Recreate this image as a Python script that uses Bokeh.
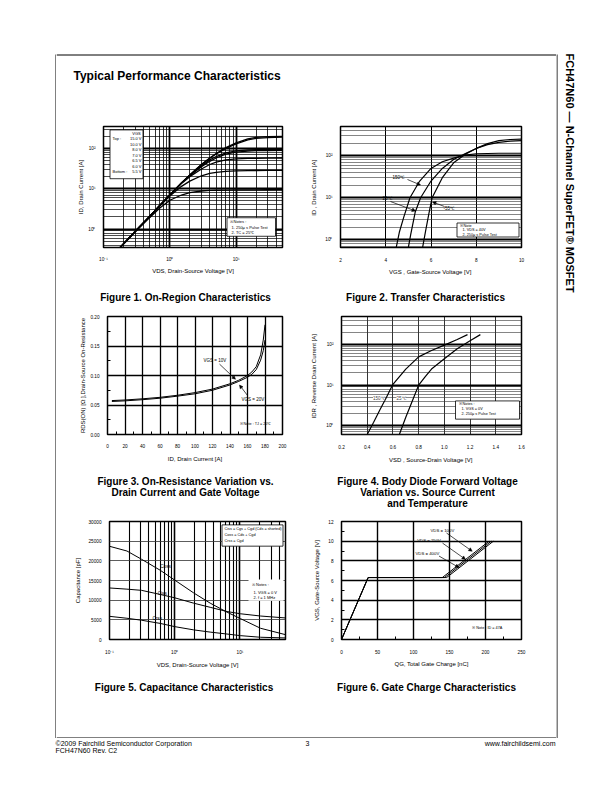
import math
from bokeh.plotting import figure
from bokeh.layouts import column, row
from bokeh.models import Range1d, FixedTicker, NumeralTickFormatter, Arrow, NormalHead, Label
from bokeh.core.properties import value
from bokeh.embed import file_html
from bokeh.resources import INLINE

FONT = "Liberation Sans"

# ---------------- data ----------------
# Figure 1: On-Region Characteristics
fig1_vds = [0.15, 0.2, 0.3, 0.5, 0.7, 1, 1.5, 2, 3, 4, 5, 7, 10, 15, 20, 30, 50]
fig1_vgs = ["15.0 V", "10.0 V", "8.0 V", "7.0 V", "6.5 V", "6.0 V", "5.5 V"]
fig1_id_15v = [0.26, 0.43, 0.88, 2.1, 3.8, 7.0, 14, 22, 40, 58, 75, 105, 138, 172, 188, 196, 200]
fig1_id_10v = [0.26, 0.43, 0.88, 2.1, 3.8, 7.0, 14, 22, 40, 57, 73, 100, 130, 163, 178, 186, 190]
fig1_id_8v = [0.26, 0.43, 0.88, 2.1, 3.8, 7.0, 14, 21.5, 37, 52, 63, 78, 87, 92, 94, 95, 95]
fig1_id_7v = [0.26, 0.43, 0.88, 2.1, 3.8, 7.0, 14, 21, 35, 48, 58, 72, 81, 86, 88, 89, 90]
fig1_id_65v = [0.26, 0.43, 0.88, 2.1, 3.8, 6.9, 13.5, 20, 31, 40, 46, 52, 55, 56.5, 57, 57.5, 58]
fig1_id_6v = [0.26, 0.43, 0.87, 2.05, 3.7, 6.6, 11.5, 15.5, 21, 24, 25.5, 27, 27.8, 28.2, 28.4, 28.5, 28.6]
fig1_id_55v = [0.26, 0.42, 0.85, 1.95, 3.3, 5.2, 7.0, 8.0, 8.8, 9.1, 9.2, 9.3, 9.35, 9.4, 9.4, 9.45, 9.5]
fig1_x_ticks = [0.1, 1, 10]
fig1_x_labels = ["10⁻¹", "10⁰", "10¹"]
fig1_y_ticks = [1, 10, 100]
fig1_y_labels = ["10⁰", "10¹", "10²"]

# Figure 2: Transfer Characteristics
fig2_vgs_150 = [4.42, 4.6, 4.8, 5.07, 5.5, 6.0, 6.5, 7.0, 7.5, 8.0, 9.0, 10.0]
fig2_id_150 = [0.5, 1.5, 3.5, 10, 25, 50, 72, 88, 104, 112, 115, 115]
fig2_vgs_25 = [4.96, 5.1, 5.3, 5.54, 6.0, 6.5, 7.0, 7.5, 8.0, 8.5, 9.0, 9.5, 10.0]
fig2_id_25 = [0.5, 1.3, 4.5, 10, 25, 50, 82, 112, 150, 185, 210, 225, 230]
fig2_vgs_m55 = [5.59, 5.75, 5.9, 6.05, 6.5, 7.0, 7.5, 8.0, 8.5, 9.0, 9.5, 10.0]
fig2_id_m55 = [0.5, 1.5, 4, 10, 30, 68, 108, 150, 195, 230, 245, 250]
fig2_x_ticks = [2, 4, 6, 8, 10]
fig2_y_ticks = [1, 10, 100]
fig2_y_labels = ["10⁰", "10¹", "10²"]

# Figure 3: On-Resistance vs Drain Current
fig3_id = [5, 20, 40, 60, 80, 100, 120, 140, 150, 160, 165, 170, 175, 178, 180]
fig3_rds_10v = [0.0575, 0.0585, 0.0605, 0.063, 0.0665, 0.071, 0.077, 0.086, 0.092, 0.1, 0.106, 0.115, 0.135, 0.16, 0.186]
fig3_rds_20v = [0.056, 0.057, 0.059, 0.0615, 0.065, 0.069, 0.075, 0.084, 0.09, 0.097, 0.102, 0.11, 0.126, 0.142, 0.16]
fig3_x_ticks = [0, 20, 40, 60, 80, 100, 120, 140, 160, 180, 200]
fig3_y_ticks = [0.0, 0.05, 0.10, 0.15, 0.20]

# Figure 4: Body Diode Forward Voltage
fig4_vsd_150 = [0.40, 0.45, 0.5, 0.55, 0.6, 0.7, 0.8, 0.9, 1.0, 1.1, 1.18]
fig4_idr_150 = [0.6, 1.2, 2.5, 5, 10.5, 25, 50, 72, 98, 135, 178]
fig4_vsd_25 = [0.65, 0.7, 0.75, 0.8, 0.85, 0.9, 1.0, 1.1, 1.2, 1.28]
fig4_idr_25 = [0.6, 1.6, 4, 10, 16, 25, 45, 80, 125, 178]
fig4_x_ticks = [0.2, 0.4, 0.6, 0.8, 1.0, 1.2, 1.4, 1.6]
fig4_y_ticks = [1, 10, 100]
fig4_y_labels = ["10⁰", "10¹", "10²"]

# Figure 5: Capacitance Characteristics
fig5_vds = [0.1, 0.185, 0.31, 0.6, 1.0, 1.95, 3.5, 6.35, 10.2, 20.7, 50]
fig5_coss = [23700, 22500, 20400, 17600, 15100, 11850, 9240, 6950, 5300, 2860, 1230]
fig5_ciss = [13100, 12800, 12500, 11450, 10600, 9240, 8180, 7110, 6540, 5970, 5480]
fig5_crss = [5890, 5400, 4900, 4090, 3270, 2450, 1880, 1390, 980, 570, 400]
fig5_x_ticks = [0.1, 1, 10]
fig5_x_labels = ["10⁻¹", "10⁰", "10¹"]
fig5_y_ticks = [0, 5000, 10000, 15000, 20000, 25000, 30000]

# Figure 6: Gate Charge Characteristics
fig6_qg_100 = [0, 37, 140, 205]
fig6_qg_250 = [0, 37, 143, 208]
fig6_qg_400 = [0, 37, 146, 211]
fig6_vgs = [0, 6.3, 6.3, 10]
fig6_x_ticks = [0, 50, 100, 150, 200, 250]
fig6_y_ticks = [0, 2, 4, 6, 8, 10, 12]


# ---------------- helpers ----------------
def log_minor(lo, hi):
    out = []
    for e in range(-2, 4):
        for m in range(2, 10):
            v = m * 10 ** e
            if lo < v < hi:
                out.append(v)
    return out


def make_chart(geo, xr, yr, xlog=False, ylog=False, st=(3, 3, 2, 2)):
    ox, oy, w, h, fl, fr, ft, fb = geo
    p = figure(width=w, height=h, x_range=Range1d(*xr), y_range=Range1d(*yr),
               x_axis_type="log" if xlog else "linear",
               y_axis_type="log" if ylog else "linear",
               output_backend="svg", toolbar_location=None,
               min_border_left=fl - ox, min_border_right=ox + w - fr,
               min_border_top=ft - oy, min_border_bottom=oy + h - fb)
    p.outline_line_color = "black"
    p.outline_line_width = 1.5
    p.background_fill_color = "white"
    p.border_fill_color = "white"
    for ax in p.axis:
        ax.axis_line_color = None
        ax.major_tick_line_color = None
        ax.minor_tick_line_color = None
        ax.major_label_text_font = FONT
        ax.major_label_text_font_size = "4.7px"
        ax.major_label_text_color = "black"
        ax.axis_label_text_font = FONT
        ax.axis_label_text_font_size = "6px"
        ax.axis_label_text_font_style = "normal"
        ax.axis_label_text_color = "black"
    p.xaxis.major_label_standoff = st[0]
    p.xaxis.axis_label_standoff = st[1]
    p.yaxis.major_label_standoff = st[2]
    p.yaxis.axis_label_standoff = st[3]

    def fx(px):
        f = (px - fl) / (fr - fl)
        if xlog:
            a, b = math.log10(xr[0]), math.log10(xr[1])
            return 10 ** (a + f * (b - a))
        return xr[0] + f * (xr[1] - xr[0])

    def fy(py):
        f = (fb - py) / (fb - ft)
        if ylog:
            a, b = math.log10(yr[0]), math.log10(yr[1])
            return 10 ** (a + f * (b - a))
        return yr[0] + f * (yr[1] - yr[0])

    return p, fx, fy


def grid(g, color="black", width=1.0, mcolor=None, mwidth=0.7):
    g.grid_line_color = color
    g.grid_line_width = width
    if mcolor:
        g.minor_grid_line_color = mcolor
        g.minor_grid_line_width = mwidth


def ptext(p, fx, fy, px, py, s, size="4px", align="left", style="normal"):
    p.text(x=[fx(px)], y=[fy(py)], text=[s], text_font=value(FONT), text_font_size=size,
           text_align=align, text_baseline="middle", text_color="black", text_font_style=style)


def pbox(p, fx, fy, x0, y0, x1, y1, line=True):
    p.quad(left=[fx(x0)], right=[fx(x1)], top=[fy(y0)], bottom=[fy(y1)],
           fill_color="white", line_color="black" if line else None, line_width=0.8)


def parrow(p, fx, fy, x0, y0, x1, y1):
    p.add_layout(Arrow(end=NormalHead(size=3.5, fill_color="black", line_color="black", line_width=0.5),
                       x_start=fx(x0), y_start=fy(y0), x_end=fx(x1), y_end=fy(y1),
                       line_color="black", line_width=0.7))


def make_deco(ox, oy, w, h):
    p = figure(width=w, height=h, x_range=Range1d(ox, ox + w), y_range=Range1d(-(oy + h), -oy),
               output_backend="svg", toolbar_location=None, min_border=0,
               x_axis_type=None, y_axis_type=None)
    p.outline_line_color = None
    p.background_fill_color = "white"
    p.border_fill_color = "white"
    return p


def dtext(p, px, py, s, size="10px", align="left", style="bold", angle=0.0):
    p.text(x=[px], y=[-py], text=[s], text_font=value(FONT), text_font_size=size,
           text_align=align, text_baseline="middle", text_color="black",
           text_font_style=style, angle=angle)


def dline(p, xs, ys, w=1.0):
    p.line(x=xs, y=[-v for v in ys], line_color="black", line_width=w)


# ---------------- Figure 1 ----------------
f1, fx, fy = make_chart((56, 110, 250, 170, 103, 282, 126, 250), (0.1, 50), (0.35, 350), True, True, (3, 3, 2, 1))
f1.xaxis.ticker = FixedTicker(ticks=fig1_x_ticks, minor_ticks=log_minor(0.1, 50))
f1.yaxis.ticker = FixedTicker(ticks=fig1_y_ticks, minor_ticks=log_minor(0.35, 350))
f1.xaxis.major_label_overrides = dict(zip(fig1_x_ticks, fig1_x_labels))
f1.yaxis.major_label_overrides = dict(zip(fig1_y_ticks, fig1_y_labels))
f1.xaxis.axis_label = "VDS, Drain-Source Voltage [V]"
f1.yaxis.axis_label = "ID, Drain Current [A]"
grid(f1.xgrid, width=1.8, mcolor="black", mwidth=0.8)
grid(f1.ygrid, width=1.8, mcolor="black", mwidth=0.7)
for ys in [fig1_id_15v, fig1_id_10v, fig1_id_8v, fig1_id_7v, fig1_id_65v, fig1_id_6v, fig1_id_55v]:
    f1.line(fig1_vds, ys, line_color="black", line_width=1.3)
pbox(f1, fx, fy, 109.5, 129.5, 142.5, 179.5)
ptext(f1, fx, fy, 136, 133.5, "VGS", "4px", "center")
rows_y = [138.5, 144.2, 150, 155.5, 161, 166.8, 172.6]
for yy, lab in zip(rows_y, fig1_vgs):
    ptext(f1, fx, fy, 141, yy, lab, "4px", "right")
ptext(f1, fx, fy, 112, rows_y[0], "Top :", "4px")
ptext(f1, fx, fy, 112, rows_y[-1], "Bottom :", "4px")
pbox(f1, fx, fy, 226.5, 219.5, 275, 238.5)
ptext(f1, fx, fy, 229, 223, "※ Notes :", "4px")
ptext(f1, fx, fy, 231, 229, "1. 250μ s Pulse Test", "4px")
ptext(f1, fx, fy, 231, 235, "2. TC = 25℃", "4px")

# ---------------- Figure 2 ----------------
f2, fx, fy = make_chart((306, 110, 250, 170, 340, 521, 126, 247), (2, 10), (0.65, 500), False, True, (4, 4, 2, 5))
f2.xaxis.ticker = FixedTicker(ticks=fig2_x_ticks)
f2.yaxis.ticker = FixedTicker(ticks=fig2_y_ticks, minor_ticks=log_minor(0.65, 500))
f2.yaxis.major_label_overrides = dict(zip(fig2_y_ticks, fig2_y_labels))
f2.xaxis.axis_label = "VGS , Gate-Source Voltage  [V]"
f2.yaxis.axis_label = "ID , Drain Current  [A]"
grid(f2.xgrid, width=1.0)
grid(f2.ygrid, width=1.8, mcolor="#333333", mwidth=0.6)
for xs, ys in [(fig2_vgs_150, fig2_id_150), (fig2_vgs_25, fig2_id_25), (fig2_vgs_m55, fig2_id_m55)]:
    f2.line(xs, ys, line_color="black", line_width=1.2)
ptext(f2, fx, fy, 392, 176.7, "150℃", "4.5px")
parrow(f2, fx, fy, 407, 179, 420, 184.5)
ptext(f2, fx, fy, 382, 198.3, "25℃", "4.5px")
parrow(f2, fx, fy, 390, 201, 415, 210.5)
ptext(f2, fx, fy, 443, 208.3, "-55℃", "4.5px")
parrow(f2, fx, fy, 444, 206, 432, 201.5)
pbox(f2, fx, fy, 456.5, 222.5, 518.5, 236.5)
ptext(f2, fx, fy, 459, 225.5, "※ Note", "3.8px")
ptext(f2, fx, fy, 462, 229.8, "1. VDS = 40V", "3.8px")
ptext(f2, fx, fy, 462, 234, "2. 250μ s Pulse Test", "3.8px")

# ---------------- Figure 3 ----------------
f3, fx, fy = make_chart((56, 310, 250, 155, 107, 282, 316, 440), (0, 200), (0, 0.2), False, False, (3, 5, 2, 1))
f3.xaxis.ticker = FixedTicker(ticks=fig3_x_ticks, minor_ticks=[t + 10 for t in fig3_x_ticks[:-1]])
f3.yaxis.ticker = FixedTicker(ticks=fig3_y_ticks, minor_ticks=[t + 0.025 for t in fig3_y_ticks[:-1]])
f3.yaxis.formatter = NumeralTickFormatter(format="0.00")
for ax in f3.axis:
    ax.minor_tick_line_color = "black"
    ax.minor_tick_in = 3
    ax.minor_tick_out = 0
f3.xaxis.axis_label = "ID, Drain Current [A]"
f3.yaxis.axis_label = "RDS(ON) [Ω ],Drain-Source On-Resistance"
grid(f3.xgrid, width=1.3)
grid(f3.ygrid, width=1.3)
f3.line(fig3_id, fig3_rds_10v, line_color="black", line_width=1.0)
f3.line(fig3_id, fig3_rds_20v, line_color="black", line_width=1.0)
ptext(f3, fx, fy, 203, 362, "VGS = 10V", "4.5px")
parrow(f3, fx, fy, 219, 366, 235, 382)
ptext(f3, fx, fy, 241, 403.5, "VGS = 20V", "4.5px")
parrow(f3, fx, fy, 247, 399, 239, 388)
ptext(f3, fx, fy, 239, 429, "※ Note : TJ = 25℃", "3.8px")

# ---------------- Figure 4 ----------------
f4, fx, fy = make_chart((306, 310, 250, 155, 341, 521, 315, 438), (0.2, 1.6), (0.6, 500), False, True, (4, 5, 2, 6))
f4.xaxis.ticker = FixedTicker(ticks=fig4_x_ticks)
f4.xaxis.formatter = NumeralTickFormatter(format="0.0")
f4.yaxis.ticker = FixedTicker(ticks=fig4_y_ticks, minor_ticks=log_minor(0.6, 500))
f4.yaxis.major_label_overrides = dict(zip(fig4_y_ticks, fig4_y_labels))
f4.xaxis.axis_label = "VSD , Source-Drain Voltage  [V]"
f4.yaxis.axis_label = "IDR , Reverse Drain Current  [A]"
grid(f4.xgrid, width=0.8)
grid(f4.ygrid, width=1.8, mcolor="#333333", mwidth=0.6)
f4.line(fig4_vsd_150, fig4_idr_150, line_color="black", line_width=1.2)
f4.line(fig4_vsd_25, fig4_idr_25, line_color="black", line_width=1.2)
for px, s in [(384, "150℃"), (405, "25℃")]:
    f4.add_layout(Label(x=fx(px), y=fy(400), text=s, text_font=FONT, text_font_size="4.5px",
                        text_align="right", text_baseline="middle", background_fill_color="white"))
pbox(f4, fx, fy, 455, 403, 519, 422)
ptext(f4, fx, fy, 458, 406.5, "※ Notes :", "3.8px")
ptext(f4, fx, fy, 461, 411.8, "1. VGS = 0V", "3.8px")
ptext(f4, fx, fy, 461, 417, "2. 250μ s Pulse Test", "3.8px")

# ---------------- Figure 5 ----------------
f5, fx, fy = make_chart((56, 515, 250, 155, 109, 285, 521, 643), (0.1, 50), (0, 30000), True, False, (4, 4, 2, 4))
f5.xaxis.ticker = FixedTicker(ticks=fig5_x_ticks, minor_ticks=log_minor(0.1, 50))
f5.xaxis.major_label_overrides = dict(zip(fig5_x_ticks, fig5_x_labels))
f5.yaxis.ticker = FixedTicker(ticks=fig5_y_ticks)
f5.xaxis.axis_label = "VDS, Drain-Source Voltage [V]"
f5.yaxis.axis_label = "Capacitance [pF]"
grid(f5.xgrid, width=1.6, mcolor="black", mwidth=1.1)
grid(f5.ygrid, color="#333333", width=0.8)
for ys in [fig5_coss, fig5_ciss, fig5_crss]:
    f5.line(fig5_vds, ys, line_color="black", line_width=1.0)
pbox(f5, fx, fy, 221.5, 524.5, 282.5, 546.5)
ptext(f5, fx, fy, 224, 529, "Ciss = Cgs + Cgd (Cds = shorted)", "3.8px")
ptext(f5, fx, fy, 224, 535, "Coss = Cds + Cgd", "3.8px")
ptext(f5, fx, fy, 224, 541, "Crss = Cgd", "3.8px")
pbox(f5, fx, fy, 248, 581, 283, 603, line=False)
ptext(f5, fx, fy, 251.5, 585.7, "※ Notes :", "4px")
ptext(f5, fx, fy, 253, 594.5, "1. VGS = 0 V", "4px")
ptext(f5, fx, fy, 253, 599.5, "2. f = 1 MHz", "4px")
ptext(f5, fx, fy, 165, 567.3, "Coss", "4.7px", "center")
ptext(f5, fx, fy, 161.7, 595, "Ciss", "4.7px", "center")
ptext(f5, fx, fy, 156.7, 621.7, "Crss", "4.7px", "center")

# ---------------- Figure 6 ----------------
f6, fx, fy = make_chart((306, 515, 250, 155, 341, 521, 521, 644), (0, 250), (0, 12), False, False, (4, 4, 2, 5))
f6.xaxis.ticker = FixedTicker(ticks=fig6_x_ticks, minor_ticks=[t + 25 for t in fig6_x_ticks[:-1]])
f6.yaxis.ticker = FixedTicker(ticks=fig6_y_ticks, minor_ticks=[t + 1 for t in fig6_y_ticks[:-1]])
for ax in f6.axis:
    ax.minor_tick_line_color = "black"
    ax.minor_tick_in = 3
    ax.minor_tick_out = 0
f6.xaxis.axis_label = "QG, Total Gate Charge [nC]"
f6.yaxis.axis_label = "VGS, Gate-Source Voltage [V]"
grid(f6.xgrid, width=1.4)
grid(f6.ygrid, width=1.4)
for xs in [fig6_qg_100, fig6_qg_250, fig6_qg_400]:
    f6.line(xs, fig6_vgs, line_color="black", line_width=1.0)
ptext(f6, fx, fy, 430, 530, "VDS = 100V", "4.3px")
parrow(f6, fx, fy, 446, 533, 471.7, 552)
ptext(f6, fx, fy, 416.7, 541, "VDS = 250V", "4.3px")
parrow(f6, fx, fy, 442, 543.5, 465, 560.5)
ptext(f6, fx, fy, 415, 554.3, "VDS = 400V", "4.3px")
parrow(f6, fx, fy, 438.5, 557, 458.5, 569)
ptext(f6, fx, fy, 471.7, 632.3, "※ Note : ID = 47A", "3.8px")

# ---------------- page decoration ----------------
header = make_deco(56, 0, 500, 110)
dline(header, [56, 556], [54.5, 54.5])
dtext(header, 73, 75, "Typical Performance Characteristics", "12px")

cap1 = make_deco(56, 280, 500, 30)
dtext(cap1, 185, 297, "Figure 1. On-Region Characteristics", "10px", "center")
dtext(cap1, 425, 297, "Figure 2. Transfer Characteristics", "10px", "center")

cap2 = make_deco(56, 465, 500, 50)
dtext(cap2, 185, 481, "Figure 3. On-Resistance Variation vs.", "10px", "center")
dtext(cap2, 185, 492, "Drain Current and Gate Voltage", "10px", "center")
dtext(cap2, 427, 481, "Figure 4. Body Diode Forward Voltage", "10px", "center")
dtext(cap2, 427, 492, "Variation vs. Source Current", "10px", "center")
dtext(cap2, 427, 503, "and Temperature", "10px", "center")

cap3 = make_deco(56, 670, 500, 68)
dtext(cap3, 183.5, 687, "Figure 5. Capacitance Characteristics", "10px", "center")
dtext(cap3, 426, 687, "Figure 6. Gate Charge Characteristics", "10px", "center")
dline(cap3, [56, 556], [737.5, 737.5])

left_strip = make_deco(0, 0, 56, 738)
dline(left_strip, [55.5, 55.5], [54, 738])

right_strip = make_deco(556, 0, 48, 738)
dline(right_strip, [556.5, 556.5], [54, 738])
dtext(right_strip, 569, 53, "FCH47N60 — N-Channel SuperFET® MOSFET", "11px", "left", "bold", -math.pi / 2)

footer = make_deco(0, 738, 604, 44)
dtext(footer, 55, 742.5, "©2009 Fairchild Semiconductor Corporation", "7px", "left", "normal")
dtext(footer, 55, 749.5, "FCH47N60 Rev. C2", "7px", "left", "normal")
dtext(footer, 307, 742.5, "3", "7px", "center", "normal")
dtext(footer, 555, 742.5, "www.fairchildsemi.com", "7px", "right", "normal")

content = column(header, row(f1, f2), cap1, row(f3, f4), cap2, row(f5, f6), cap3)
page = column(row(left_strip, content, right_strip), footer)

open("out.html", "w").write(file_html(page, INLINE))
